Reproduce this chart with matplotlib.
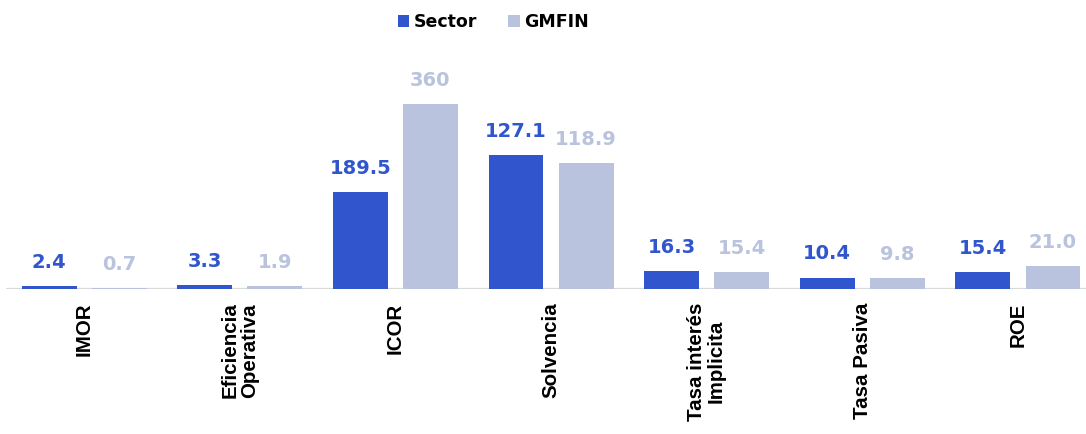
import matplotlib
matplotlib.use("Agg")
import matplotlib.pyplot as plt
import numpy as np

categories = ["IMOR", "Eficiencia\nOperativa", "ICOR", "Solvencia",
              "Tasa interés\nImplicita", "Tasa Pasiva", "ROE"]
series_names = ["Sector", "GMFIN"]
# values shown in labels
sector_labels = ["2.4", "3.3", "189.5", "127.1", "16.3", "10.4", "15.4"]
gmfin_labels = ["0.7", "1.9", "360", "118.9", "15.4", "9.8", "21.0"]
# bar heights as drawn in the picture (ICOR drawn on a compressed scale)
sector_heights = [2.4, 3.3, 91.9, 127.1, 16.3, 10.4, 15.4]
gmfin_heights = [0.7, 1.9, 175.5, 118.9, 15.4, 9.8, 21.0]

c_sector = "#3055CC"
c_gmfin = "#B9C3DE"

W, H = 1086, 434
fig = plt.figure(figsize=(W / 100, H / 100), dpi=100)
left_px, right_px = 6.25, 1088
base_px, top_px = 288.5, 40
ax = fig.add_axes([left_px / W, (H - base_px) / H,
                   (right_px - left_px) / W, (base_px - top_px) / H])

x = np.arange(len(categories))
bw = 0.353
off = 0.225
b1 = ax.bar(x - off, sector_heights, bw, color=c_sector, label=series_names[0], zorder=3)
b2 = ax.bar(x + off, gmfin_heights, bw, color=c_gmfin, label=series_names[1], zorder=3)

ax.axhline(0, color="#D9D9D9", lw=1.6, zorder=2)
ax.set_xlim(-0.5, 6.45)
ax.set_ylim(0, (base_px - top_px) / 1.053)

for xi, h, t in zip(x - off, sector_heights, sector_labels):
    ax.annotate(t, (xi, h), xytext=(0, 13), textcoords="offset points",
                ha="center", va="baseline", fontsize=14, fontweight="bold",
                color=c_sector, family="DejaVu Sans")
for xi, h, t in zip(x + off, gmfin_heights, gmfin_labels):
    ax.annotate(t, (xi, h), xytext=(0, 13), textcoords="offset points",
                ha="center", va="baseline", fontsize=14, fontweight="bold",
                color=c_gmfin, family="DejaVu Sans")

label_y = -14 / (base_px - top_px)
for xi, lab in zip(x, categories):
    ax.text(xi, label_y, lab, transform=ax.get_xaxis_transform(), rotation=90,
            ha="center", va="top", multialignment="center", linespacing=1.05,
            fontsize=14.8, fontweight="bold", family="Liberation Sans",
            color="#000000")

for s in ax.spines.values():
    s.set_visible(False)
ax.set_xticks([])
ax.set_yticks([])

fig.legend(handles=[b1, b2], labels=series_names, loc="center",
           bbox_to_anchor=(493.5 / W, 1 - 22 / H), ncol=2, frameon=False,
           handlelength=0.65, handleheight=0.65, handletextpad=0.25,
           columnspacing=1.8, borderpad=0,
           prop={"family": "DejaVu Sans", "weight": "bold", "size": 12.5})

fig.savefig("out.png", dpi=100)
